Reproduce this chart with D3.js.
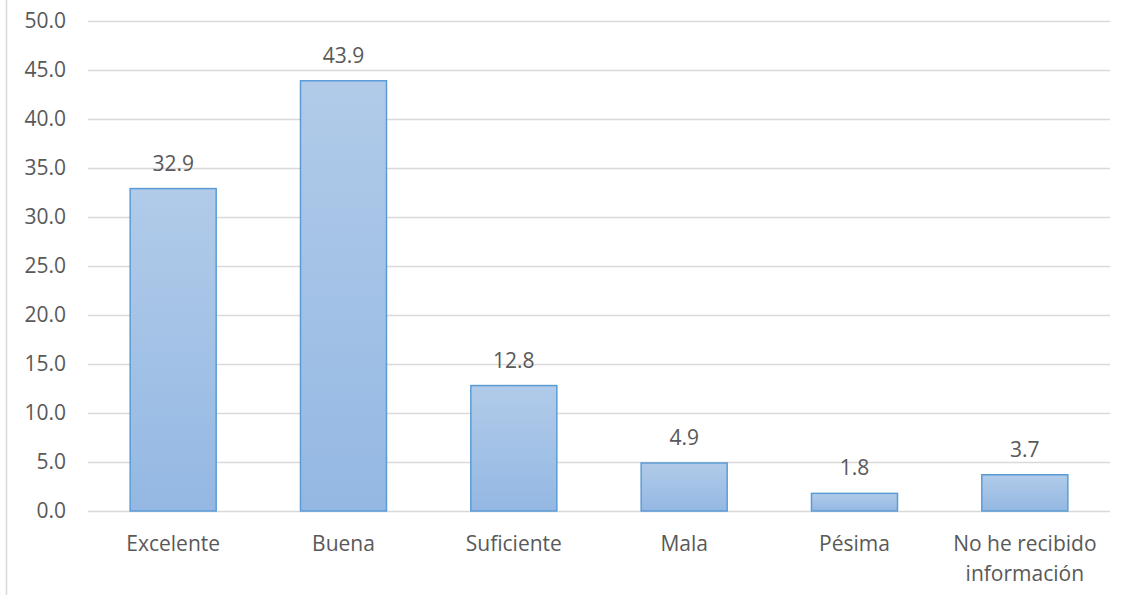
<!DOCTYPE html>
<html>
<head>
<meta charset="utf-8">
<script src="https://cdn.jsdelivr.net/npm/d3@7"></script>
<style>
  body { margin: 0; background: #fff; }
  text { font-family: "Open Sans", Lato, sans-serif; fill: #595959; }
</style>
</head>
<body>
<script>
var categories = ["Excelente", "Buena", "Suficiente", "Mala", "Pésima", "No he recibido información"];
var values = [32.9, 43.9, 12.8, 4.9, 1.8, 3.7];
var yTicks = [0, 5, 10, 15, 20, 25, 30, 35, 40, 45, 50];

var w = 1132;
var h = 595;

var margin = {
  top: 21,
  left: 88,
  bottom: 84,
  right: 22
}

var width = w - margin.left - margin.right;
var height = h - margin.top - margin.bottom;

var svg = d3.select("body")
  .append("svg")
  .attr("width", w)
  .attr("height", h)

// chart frame edge on the left
svg.append("line")
  .attr("x1", 6.5).attr("x2", 6.5)
  .attr("y1", 0).attr("y2", h)
  .attr("stroke", "#d9d9d9")
  .attr("stroke-width", 1.5);

var defs = svg.append("defs");
var grad = defs.append("linearGradient")
  .attr("id", "barGrad")
  .attr("x1", 0).attr("y1", 0)
  .attr("x2", 0).attr("y2", 1);
grad.append("stop").attr("offset", "0%").attr("stop-color", "#b1cbe9");
grad.append("stop").attr("offset", "100%").attr("stop-color", "#94b8e3");

var g = svg.append("g")
  .attr("transform", "translate(" + margin.left + ", " + margin.top + ")");

var x = d3.scaleBand()
  .domain(categories)
  .range([0, width])
  .paddingInner(0.495)
  .paddingOuter(0.2475);

var y = d3.scaleLinear()
  .domain([0, 50])
  .range([height, 0]);

// gridlines
g.selectAll(".grid")
  .data(yTicks)
  .enter()
  .append("line")
  .attr("x1", 0)
  .attr("x2", width)
  .attr("y1", d => Math.round(y(d)) + 0.5)
  .attr("y2", d => Math.round(y(d)) + 0.5)
  .attr("stroke", "#d9d9d9")
  .attr("stroke-width", 1.3);

// y axis labels
var yAxis = d3.axisLeft(y)
  .tickValues(yTicks)
  .tickFormat(d3.format(".1f"))
  .tickSize(0)
  .tickPadding(22);

g.append("g")
  .call(yAxis)
  .call(a => a.select(".domain").remove())
  .selectAll("text")
  .style("font-size", "21px")
  .style("font-family", "'Open Sans', sans-serif")
  .attr("fill", "#595959");

// bars
g.selectAll(".bar")
  .data(values)
  .enter()
  .append("rect")
  .attr("x", (d, i) => x(categories[i]))
  .attr("y", d => y(d))
  .attr("width", x.bandwidth())
  .attr("height", d => height - y(d))
  .attr("fill", "url(#barGrad)")
  .attr("stroke", "#5b9bd5")
  .attr("stroke-width", 1.5);

// value labels
g.selectAll(".val")
  .data(values)
  .enter()
  .append("text")
  .attr("x", (d, i) => x(categories[i]) + x.bandwidth() / 2)
  .attr("y", d => y(d) - 18)
  .attr("text-anchor", "middle")
  .style("font-size", "21px")
  .text(d => d3.format(".1f")(d));

// category labels, wrapped
var catWrap = {
  "No he recibido información": ["No he recibido", "información"]
};

g.selectAll(".cat")
  .data(categories)
  .enter()
  .append("text")
  .attr("text-anchor", "middle")
  .attr("transform", d => "translate(" + (x(d) + x.bandwidth() / 2) + "," + (height + 40) + ")")
  .style("font-size", "21px")
  .each(function(d) {
    var lines = catWrap[d] || [d];
    var t = d3.select(this);
    lines.forEach(function(l, j) {
      t.append("tspan")
        .attr("x", 0)
        .attr("dy", j === 0 ? 0 : 30)
        .text(l);
    });
  });
</script>
</body>
</html>
